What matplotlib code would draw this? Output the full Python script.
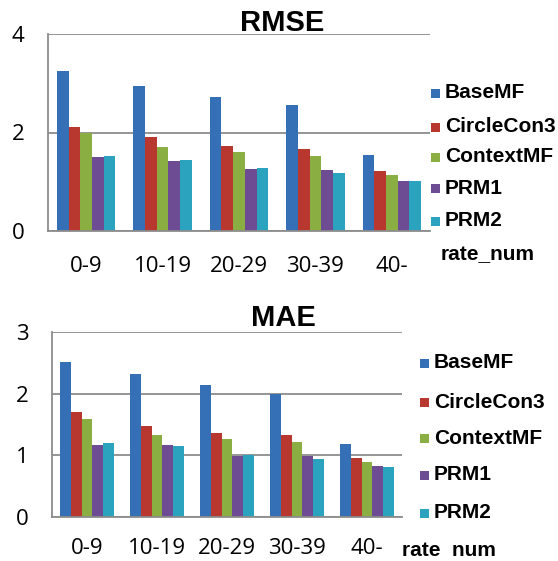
import matplotlib.pyplot as plt
import numpy as np
from matplotlib.patches import Rectangle

# ====== Data ======
categories = ["0-9", "10-19", "20-29", "30-39", "40-"]
methods = ["BaseMF", "CircleCon3", "ContextMF", "PRM1", "PRM2"]
colors = ["#356FB5", "#B8372F", "#8AAE41", "#6E4C94", "#2CA3BE"]

rmse_base = [3.24, 2.95, 2.72, 2.55, 1.55]
rmse_circle = [2.11, 1.91, 1.73, 1.67, 1.21]
rmse_context = [2.00, 1.70, 1.61, 1.53, 1.13]
rmse_prm1 = [1.50, 1.42, 1.25, 1.24, 1.01]
rmse_prm2 = [1.52, 1.44, 1.27, 1.18, 1.01]

mae_base = [2.51, 2.32, 2.14, 2.00, 1.18]
mae_circle = [1.70, 1.48, 1.37, 1.33, 0.95]
mae_context = [1.59, 1.33, 1.27, 1.21, 0.90]
mae_prm1 = [1.17, 1.16, 0.99, 0.99, 0.82]
mae_prm2 = [1.20, 1.15, 1.01, 0.94, 0.81]

rmse_ticks = [0, 2, 4]
mae_ticks = [0, 1, 2, 3]

tick_font = "Open Sans"
legend_font = "Liberation Sans"

fig = plt.figure(figsize=(5.58, 5.61), dpi=100)
W, H = 558, 561


def px(x, y):
    # pixel position (from top-left) -> figure fraction
    return x / W, 1 - y / H


def draw_panel(box, series, ticks, title, title_xy, legend_ys, legend_x, label_text, label_xy, xpad):
    left, top, right, bottom = box
    ax = fig.add_axes([left / W, 1 - bottom / H, (right - left) / W, (bottom - top) / H])
    x = np.arange(len(categories))
    width = 0.153
    for i, vals in enumerate(series):
        ax.bar(x + (i - 2) * width, vals, width, color=colors[i], zorder=3)
    ax.set_xlim(-0.5, len(categories) - 0.5)
    ax.set_ylim(0, ticks[-1])
    ax.set_yticks(ticks)
    ax.set_xticks(x)
    ax.set_xticklabels(categories)
    ax.tick_params(axis="both", length=0, labelsize=16)
    ax.tick_params(axis="x", pad=xpad)
    ax.tick_params(axis="y", pad=17)
    for lab in ax.get_xticklabels() + ax.get_yticklabels():
        lab.set_family(tick_font)
    ax.grid(axis="y", color="#8C8C8C", linewidth=1.3, zorder=0)
    for side in ["top", "right"]:
        ax.spines[side].set_visible(False)
    for side in ["left", "bottom"]:
        ax.spines[side].set_color("#8C8C8C")
        ax.spines[side].set_linewidth(1.3)
        ax.spines[side].set_zorder(4)
    fig.text(*px(*title_xy), title, ha="center", va="center",
             fontsize=21, fontweight="bold", family=legend_font)

    # legend entries
    for name, col, ly in zip(methods, colors, legend_ys):
        fig.patches.append(Rectangle(px(legend_x, ly + 4.5), 9 / W, 9 / H,
                                     facecolor=col, transform=fig.transFigure, figure=fig))
        fig.text(*px(legend_x + 14, ly), name, ha="left", va="center",
                 fontsize=15, fontweight="bold", family=legend_font)
    fig.text(*px(*label_xy), label_text, ha="left", va="center",
             fontsize=15, fontweight="bold", family=legend_font)
    return ax


# top panel: RMSE
draw_panel((48, 34, 430, 231),
           [rmse_base, rmse_circle, rmse_context, rmse_prm1, rmse_prm2],
           rmse_ticks, "RMSE", (282, 23),
           [93, 127, 157, 188, 221], 431, "rate_num", (441, 255), 18)

# bottom panel: MAE
draw_panel((52, 332, 402, 517),
           [mae_base, mae_circle, mae_context, mae_prm1, mae_prm2],
           mae_ticks, "MAE", (283, 318),
           [363, 402, 438, 475, 513], 420, "rate  num", (402, 550), 15)

fig.savefig("out.png", dpi=100)
